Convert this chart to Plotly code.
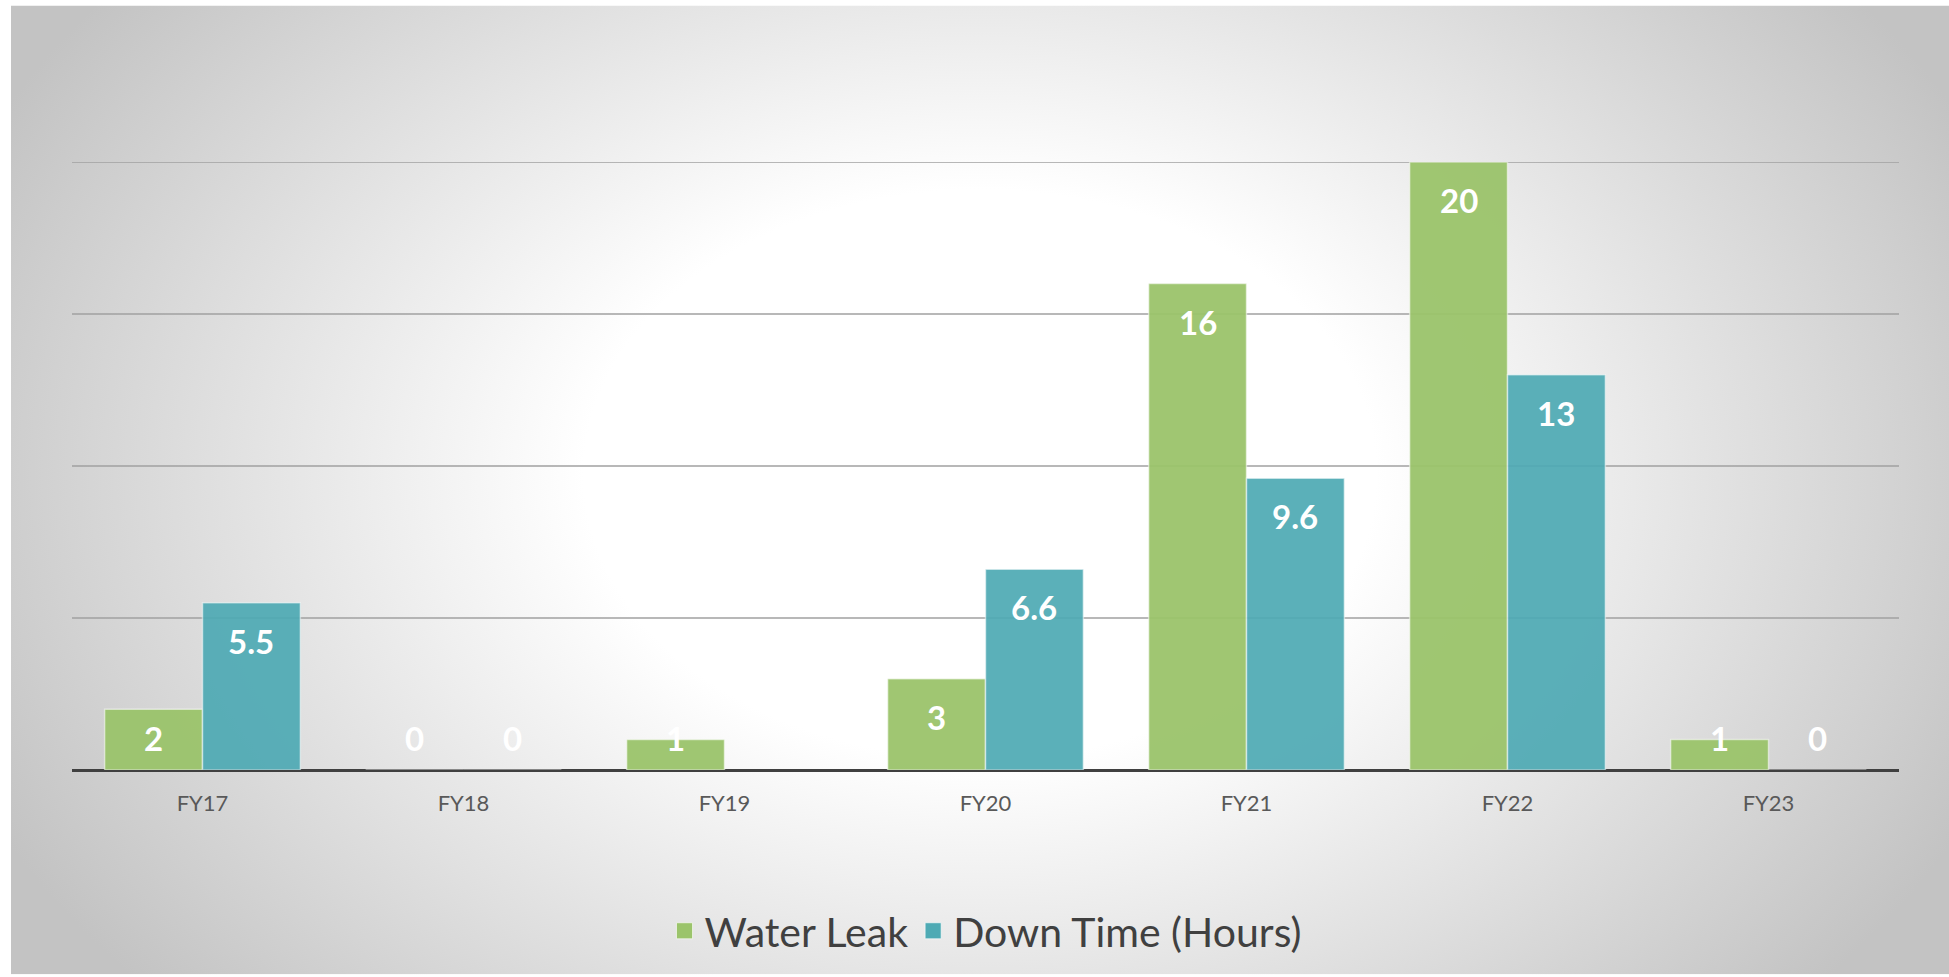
import base64
import plotly.graph_objects as go

# Fiscal-year categories and the two series
years = ["FY17", "FY18", "FY19", "FY20", "FY21", "FY22", "FY23"]
water_leak = [2, 0, 1, 3, 16, 20, 1]
down_time = [5.5, 0, None, 6.6, 9.6, 13, 0]
grid_values = [5, 10, 15, 20]

GREEN = "#9bc46b"
TEAL = "#4eaab4"
GRID = "#a0a0a0"
BARGAP = 0.25
LABEL_FLOOR = 2.3  # labels on short bars sit no lower than this
FONT = "Lato"

# Soft elliptical backdrop, built as an inline SVG (1938 x 972 canvas)
svg = (
    '<svg xmlns="http://www.w3.org/2000/svg" width="1938" height="972" '
    'viewBox="0 0 1938 972" preserveAspectRatio="none">'
    '<defs><radialGradient id="g" gradientUnits="userSpaceOnUse" '
    'cx="969" cy="470" r="1100" '
    'gradientTransform="translate(969,470) scale(1,0.72) translate(-969,-470)">'
    '<stop offset="0" stop-color="#ffffff"/>'
    '<stop offset="0.36" stop-color="#ffffff"/>'
    '<stop offset="1" stop-color="#c3c3c3"/>'
    '</radialGradient></defs>'
    '<rect x="0" y="0" width="1938" height="972" fill="url(#g)"/></svg>'
)
bg_uri = "data:image/svg+xml;base64," + base64.b64encode(svg.encode()).decode()

x_idx = list(range(len(years)))
half = (1 - BARGAP) / 4  # offset from category centre to each bar centre

fig = go.Figure()
for name, vals, color, op in (("Water Leak", water_leak, GREEN, 0.95),
                              ("Down Time (Hours)", down_time, TEAL, 0.92)):
    fig.add_trace(go.Bar(
        x=x_idx, y=vals, name=name, showlegend=False,
        marker=dict(color=color, opacity=op,
                    line=dict(color="rgba(255,255,255,0.55)", width=1.5)),
        hoverinfo="skip",
    ))
    # legend entry with a larger square swatch
    fig.add_trace(go.Scatter(
        x=[None], y=[None], mode="markers", name=name,
        marker=dict(symbol="square", size=22, color=color,
                    line=dict(color="rgba(255,255,255,0.6)", width=1)),
    ))

# Horizontal gridlines (drawn as shapes so the top one at the range edge shows)
for g in grid_values:
    fig.add_shape(type="line", xref="paper", yref="y", x0=0, x1=1, y0=g, y1=g,
                  line=dict(color=GRID, width=1.5), layer="below")

# Value labels near the top of each bar
def fmt(v):
    return f"{v:g}"

for series, sign in ((water_leak, -1), (down_time, 1)):
    for i, v in enumerate(series):
        if v is None:
            continue
        fig.add_annotation(
            x=i + sign * half, y=max(v, LABEL_FLOOR),
            xref="x", yref="y", text=fmt(v), showarrow=False,
            yanchor="top", yshift=-16,
            font=dict(family=FONT, size=33, color="white", weight="bold"),
        )

fig.update_layout(
    width=1949, height=977,
    margin=dict(l=72, r=50, t=162, b=205),
    paper_bgcolor="white",
    plot_bgcolor="rgba(0,0,0,0)",
    barmode="group", bargap=BARGAP, bargroupgap=0,
    showlegend=True,
    legend=dict(
        orientation="h", x=0.5, xanchor="center", y=-0.265, yanchor="middle",
        font=dict(family=FONT, size=41, color="#404040"),
        bgcolor="rgba(0,0,0,0)", itemwidth=30,
    ),
    images=[dict(
        source=bg_uri, xref="paper", yref="paper",
        x=-61 / 1827, y=1 + 157 / 610,
        sizex=1938 / 1827, sizey=972 / 610,
        xanchor="left", yanchor="top", sizing="stretch", layer="below",
    )],
    xaxis=dict(
        tickmode="array", tickvals=x_idx, ticktext=years,
        range=[-0.5, len(years) - 0.5],
        showgrid=False, zeroline=False, showline=False, ticks="",
        tickfont=dict(family=FONT, size=22, color="#595959"),
        ticklabelstandoff=18,
    ),
    yaxis=dict(
        range=[0, 20], showticklabels=False, showgrid=False,
        zeroline=True, zerolinecolor="#404040", zerolinewidth=3,
        layer="below traces",
    ),
)

fig.write_html("out.html")
